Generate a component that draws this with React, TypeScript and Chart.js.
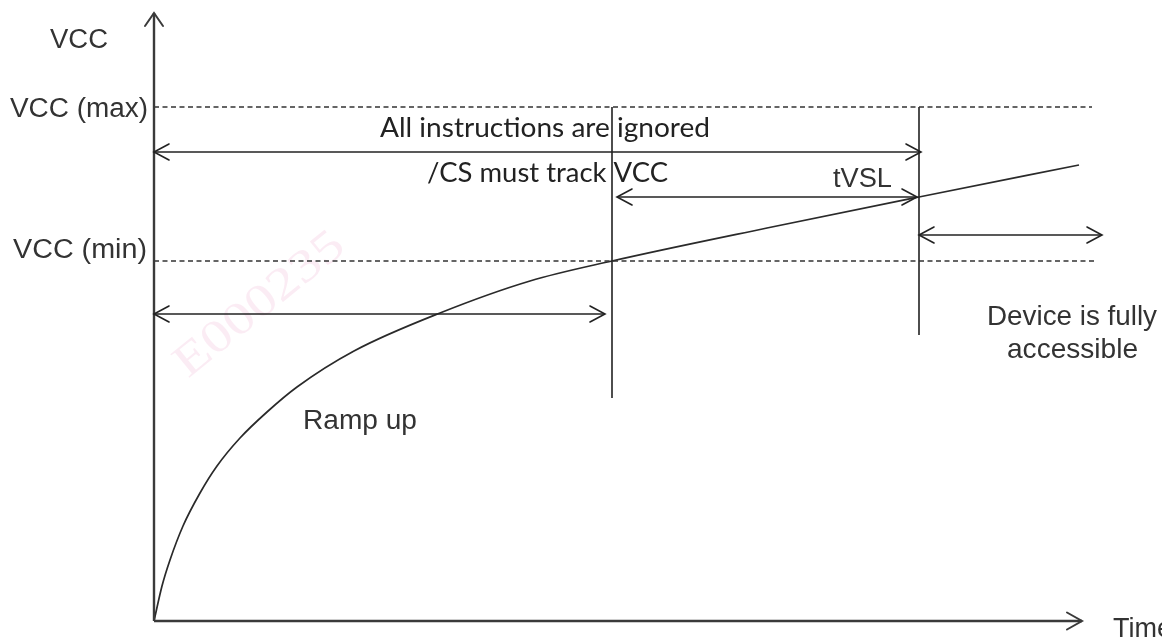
import React, { useEffect, useRef } from "react";
import { Chart, registerables } from "chart.js";

Chart.register(...registerables);

// ---- Data (time units / VCC units of the diagram) ----
const rampTime = [0, 0.08, 0.16, 0.29, 0.46, 0.63, 0.86, 1.13, 1.43, 2.0, 2.86, 3.76, 4.58, 6.13, 7.65, 9.25];
const rampVcc = [0, 0.35, 0.61, 0.95, 1.28, 1.55, 1.83, 2.09, 2.34, 2.7, 3.08, 3.4, 3.6, 3.93, 4.24, 4.56];

const vccMin = 3.6;
const vccMax = 5.14;
const vccMinLineEnd = 9.41;
const vccMaxLineEnd = 9.38;

const tCsTrack = 4.58; // VCC reaches VCC(min)
const tVslEnd = 7.65; // end of tVSL
const markerTimes = [tCsTrack, tVslEnd];
const markerBottoms = [2.23, 2.86];

const timeAxisEnd = 9.28;
const vccAxisTop = 6.08;

// double-headed arrows
const arrowNames = ["All instructions are ignored", "tVSL", "Device is fully accessible", "Ramp up"];
const arrowStart = [0, 4.63, 7.65, 0];
const arrowEnd = [7.67, 7.63, 9.48, 4.51];
const arrowLevel = [4.69, 4.24, 3.86, 3.07];

// texts
const yAxisTitle = "VCC";
const xAxisTitle = "Time";
const levelLabels = ["VCC (max)", "VCC (min)"];
const noteLabels = ["All instructions are ignored", "/CS must track VCC", "tVSL", "Ramp up"];
const deviceLabel = ["Device is fully", "accessible"];
const watermark = "E000235";

const INK = "#222";
const TEXT = "#333";

function drawText(ctx: CanvasRenderingContext2D, s: string, x: number, base: number, font: string, color: string, fitW?: number, align: "left" | "right" = "left") {
  ctx.save();
  ctx.font = font;
  ctx.fillStyle = color;
  ctx.textBaseline = "alphabetic";
  const w = ctx.measureText(s).width;
  const sx = fitW ? fitW / w : 1;
  const drawnW = w * sx;
  const left = align === "left" ? x : x - drawnW;
  ctx.translate(left, base);
  ctx.scale(sx, 1);
  ctx.fillText(s, 0, 0);
  ctx.restore();
}

function chevron(ctx: CanvasRenderingContext2D, tipX: number, tipY: number, dirX: number, dirY: number, len: number, half: number) {
  const bx = tipX - dirX * len;
  const by = tipY - dirY * len;
  const nx = -dirY;
  const ny = dirX;
  ctx.beginPath();
  ctx.moveTo(bx + nx * half, by + ny * half);
  ctx.lineTo(tipX, tipY);
  ctx.lineTo(bx - nx * half, by - ny * half);
  ctx.stroke();
}

const diagramPlugin = {
  id: "diagramDecor",
  beforeDatasetsDraw(chart: any) {
    const { ctx, scales } = chart;
    const x = scales.x;
    const y = scales.y;
    // faint watermark
    ctx.save();
    const cx = x.getPixelForValue(1.06);
    const cy = y.getPixelForValue(3.16);
    ctx.translate(cx, cy);
    ctx.rotate(-0.68);
    ctx.font = "46px 'Liberation Serif'";
    ctx.fillStyle = "rgba(236, 170, 205, 0.22)";
    ctx.textAlign = "center";
    ctx.textBaseline = "middle";
    const w = ctx.measureText(watermark).width;
    ctx.scale(205 / w, 1);
    ctx.fillText(watermark, 0, 0);
    ctx.restore();
  },
  afterDatasetsDraw(chart: any) {
    const { ctx, scales } = chart;
    const x = scales.x;
    const y = scales.y;
    const px = (v: number) => x.getPixelForValue(v);
    const py = (v: number) => y.getPixelForValue(v);

    // axis arrowheads
    ctx.save();
    ctx.strokeStyle = "#3a3a3a";
    ctx.lineWidth = 2;
    ctx.lineCap = "round";
    chevron(ctx, px(0), py(vccAxisTop), 0, -1, 13, 9);
    chevron(ctx, px(timeAxisEnd), py(0), 1, 0, 15, 8.5);
    ctx.restore();

    // double-headed arrow heads
    ctx.save();
    ctx.strokeStyle = INK;
    ctx.lineWidth = 1.6;
    ctx.lineCap = "round";
    arrowNames.forEach((_, i) => {
      const yy = py(arrowLevel[i]);
      chevron(ctx, px(arrowStart[i]), yy, -1, 0, 15, 8);
      chevron(ctx, px(arrowEnd[i]), yy, 1, 0, 15, 8);
    });
    ctx.restore();

    const arial = (s: number) => `${s}px 'Liberation Sans', Arial, sans-serif`;
    const humanist = (s: number) => `${s}px Lato, 'Open Sans', sans-serif`;
    const x0 = px(0);

    // axis titles
    drawText(ctx, yAxisTitle, x0 - 46, py(vccAxisTop) + 35, arial(27), TEXT, 58, "right");
    drawText(ctx, xAxisTitle, px(timeAxisEnd) + 31, py(0) + 16, arial(27), TEXT);

    // level labels
    drawText(ctx, levelLabels[0], x0 - 6, py(vccMax) + 10, arial(27), TEXT, 138, "right");
    drawText(ctx, levelLabels[1], x0 - 7, py(vccMin) - 3, arial(27), TEXT, 134, "right");

    // notes
    drawText(ctx, noteLabels[0], 380, py(arrowLevel[0]) - 15, humanist(27), INK, 330);
    drawText(ctx, noteLabels[1], 427, 182, humanist(27), INK, 241);
    drawText(ctx, noteLabels[2], 833, py(arrowLevel[1]) - 10, arial(27), TEXT, 59);
    drawText(ctx, noteLabels[3], 303, 429, arial(27), TEXT, 114);

    drawText(ctx, deviceLabel[0], 987, 325, arial(27.5), TEXT, 170);
    drawText(ctx, deviceLabel[1], 1007, 358, arial(27.5), TEXT, 131);
  },
};

export default function App() {
  const ref = useRef<HTMLCanvasElement | null>(null);

  useEffect(() => {
    if (!ref.current) return;
    const line = (data: { x: number; y: number }[], extra: any = {}) => ({
      data,
      showLine: true,
      pointRadius: 0,
      borderColor: INK,
      borderWidth: 1.6,
      fill: false,
      clip: false,
      ...extra,
    });

    const datasets: any[] = [
      // axes
      line([{ x: 0, y: 0 }, { x: 0, y: vccAxisTop }], { borderColor: "#3a3a3a", borderWidth: 2.4 }),
      line([{ x: 0, y: 0 }, { x: timeAxisEnd, y: 0 }], { borderColor: "#3a3a3a", borderWidth: 2.4 }),
      // VCC levels (dashed)
      line([{ x: 0, y: vccMax }, { x: vccMaxLineEnd, y: vccMax }], { borderDash: [5, 3.5], borderWidth: 1.5, borderColor: "#333" }),
      line([{ x: 0, y: vccMin }, { x: vccMinLineEnd, y: vccMin }], { borderDash: [5, 3.5], borderWidth: 1.5, borderColor: "#333" }),
      // vertical markers
      ...markerTimes.map((t, i) => line([{ x: t, y: vccMax }, { x: t, y: markerBottoms[i] }], { borderWidth: 1.6 })),
      // arrow shafts
      ...arrowNames.map((_, i) => line([{ x: arrowStart[i], y: arrowLevel[i] }, { x: arrowEnd[i], y: arrowLevel[i] }], { borderWidth: 1.6 })),
      // VCC ramp curve
      line(rampTime.map((t, i) => ({ x: t, y: rampVcc[i] })), { cubicInterpolationMode: "monotone", borderWidth: 1.7, borderColor: "#2a2a2a" }),
    ];

    const chart = new Chart(ref.current, {
      type: "scatter",
      data: { datasets },
      options: {
        animation: false,
        responsive: false,
        maintainAspectRatio: false,
        layout: { padding: 0 },
        plugins: { legend: { display: false }, tooltip: { enabled: false } },
        events: [],
        scales: {
          x: { type: "linear", display: false, min: -1.54, max: 10.08 },
          y: { type: "linear", display: false, min: -0.19, max: 6.21 },
        },
      },
      plugins: [diagramPlugin],
    });
    return () => chart.destroy();
  }, []);

  return (
    <div style={{ position: "fixed", left: 0, top: 0, width: 1162, height: 640, background: "#fff" }}>
      <canvas ref={ref} width={1162} height={640} style={{ width: 1162, height: 640, display: "block" }} />
    </div>
  );
}
